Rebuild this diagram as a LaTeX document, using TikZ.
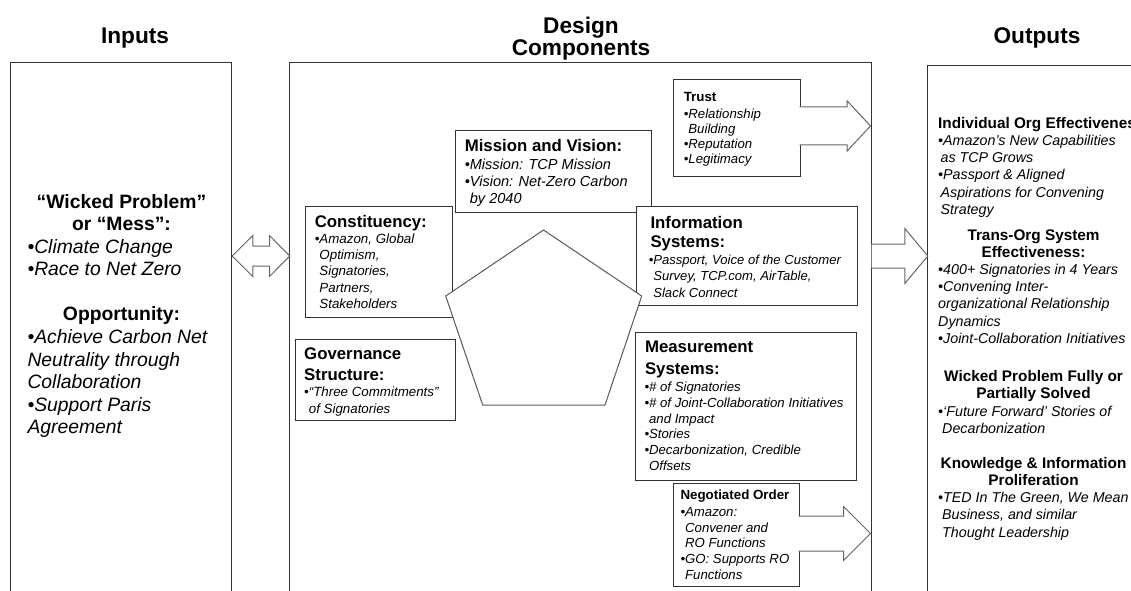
\documentclass[tikz,border=0pt]{standalone}
\usepackage{fontspec}
\setmainfont{Liberation Sans}
\usetikzlibrary{fit}

\newcommand{\fsz}[2]{\fontsize{#1}{#2}\selectfont}
\newcommand{\hg}{\hphantom{•}}
\newcommand{\ml}[1]{\begin{tabular}[t]{@{}l@{}}#1\end{tabular}}
\newcommand{\oh}[1]{\makebox[143pt][c]{\upshape\bfseries\fsz{11.5}{12.9}#1}}
\newcommand{\ih}[1]{\makebox[141pt][c]{\bfseries #1}}

\tikzset{every picture/.style={line width=0.75pt}}
\tikzset{
  box/.style={draw=black!80, fill=white, inner sep=0pt},
  blockarrow/.style={draw=black!60, fill=white, line join=miter},
  penta/.style={draw=black!65, fill=white, line join=miter},
  txt/.style={anchor=base west, inner sep=0pt},
  ttl/.style={anchor=base, inner sep=0pt, align=center, font=\bfseries\fsz{17}{16.5}},
  hd/.style={txt, font=\bfseries\fsz{12.6}{15.75}},
  bl/.style={txt, font=\itshape\fsz{10}{12.1}},
}

\begin{document}
\begin{tikzpicture}[x=0.75pt,y=0.75pt,yscale=-1,xscale=1]
    \useasboundingbox (0,0) rectangle (1131,590);
    \clip (0,0) rectangle (1131,590);
    \coordinate (lvl) at (0,256);

    %Shape: Rectangle (columns)
    \node[box, fit={(10,62.3) (231.7,620)}] (inputs) {};
    \node[box, fit={(289,62.3) (871,620)}] (design) {};
    \node[box, fit={(927.3,65.3) (1160,620)}] (outputs) {};

    %Shape: Rectangle (components)
    \node[box, fit={(455.7,130.3) (651.7,212.7)}] (mission) {};
    \node[box, fit={(305.7,206.3) (452.7,317.3)}] (constit) {};
    \node[box, fit={(636.7,206) (857.3,305)}] (infosys) {};
    %Shape: Pentagon
    \draw[penta] (543.5,230) -- (641.7,296) -- (605,405) -- (482.7,405) -- (445.7,296) -- cycle;
    \node[box, fit={(295,339.3) (455.7,420.7)}] (govern) {};
    \node[box, fit={(635.5,332.7) (856,480.7)}] (measure) {};
    \node[box, fit={(673.3,79) (800,176.7)}] (trust) {};
    \node[box, fit={(673,483.3) (799,586.7)}] (negord) {};

    %Shape: Left Right Arrow
    \draw[blockarrow] (inputs.east |- lvl) -- ++(20.6,-20.5) -- ++(0,10.5) -- ++(16.7,0) -- ++(0,-10.5) -- ++(20.3,20.5)
        -- ++(-20.3,20.5) -- ++(0,-10.5) -- ++(-16.7,0) -- ++(0,10.5) -- cycle;
    %Shape: Right Arrow
    \draw[blockarrow] (design.east |- lvl) ++(0,-12) -- ++(33.3,0) -- ++(0,-15.5) -- ++(23,27.5) -- ++(-23,27.5) -- ++(0,-15.5) -- ++(-33.3,0);
    \draw[blockarrow] (trust.east) ++(-1,-20.9) -- ++(47.7,0) -- ++(0,-6) -- ++(23.3,25) -- ++(-23.3,25) -- ++(0,-6) -- ++(-47.7,0);
    \draw[blockarrow] (negord.east) ++(-1,-19) -- ++(45,0) -- ++(0,-9.5) -- ++(27,27) -- ++(-27,27) -- ++(0,-9.5) -- ++(-45,0);

    % Text Node
    \node[ttl] (inputsttl) at (135,43) {Inputs};
    \node[ttl, anchor=center] (designttl) at (581,38.4) {Design\\Components};
    \node[ttl] (outputsttl) at (1037,43) {Outputs};

    % Text Node
    \node[txt, font=\fsz{14.5}{16.9}] (inputstx) at (27,208.3) {\ml{\ih{“Wicked Problem”}\\ \ih{or “Mess”:}\\
        \textit{•Climate Change}\\ \textit{•Race to Net Zero}\\[16.9pt]
        \ih{Opportunity:}\\ \textit{•Achieve Carbon Net}\\ \textit{Neutrality through}\\ \textit{Collaboration}\\
        \textit{•Support Paris}\\ \textit{Agreement}}};

    % Text Node
    \node[hd] (missionhd) at (464.3,151.7) {Mission and Vision:};
    \node[bl, font=\itshape\fsz{10.9}{12.75}] (missiontx) at (464.3,169.2) {\ml{•Mission: TCP Mission\\ •Vision: Net-Zero Carbon\\ \hg by 2040}};
    % Text Node
    \node[hd] (constithd) at (314.3,227.7) {Constituency:};
    \node[bl] (constittx) at (314.3,243.7) {\ml{•Amazon, Global\\ \hg Optimism,\\ \hg Signatories,\\ \hg Partners,\\ \hg Stakeholders}};
    % Text Node
    \node[hd, font=\bfseries\fsz{12.6}{16}] (governhd) at (303.7,359.3) {\ml{Governance\\ Structure:}};
    \node[bl, font=\itshape\fsz{10}{12.45}] (governtx) at (303.7,396.4) {\ml{•“Three Commitments”\\ \hg of Signatories}};
    % Text Node
    \node[hd, font=\bfseries\fsz{12.6}{14.55}] (infosyshd) at (650,228.3) {\ml{Information\\ Systems:}};
    \node[bl, font=\itshape\fsz{9.8}{12.15}] (infosystx) at (648.3,264.7) {\ml{•Passport, Voice of the Customer\\ \hg Survey, TCP.com, AirTable,\\ \hg Slack Connect}};
    % Text Node
    \node[hd, font=\bfseries\fsz{12.6}{16.5}] (measurehd) at (644.5,352.7) {\ml{Measurement\\ Systems:}};
    \node[bl, font=\itshape\fsz{9.9}{11.85}] (measuretx) at (644,391.4) {\ml{•\# of Signatories\\ •\# of Joint-Collaboration Initiatives\\
        \hg and Impact\\ •Stories\\ •Decarbonization, Credible\\ \hg Offsets}};
    % Text Node
    \node[txt, font=\bfseries\fsz{10}{12}] (trusthd) at (683.3,101.5) {Trust};
    \node[bl, font=\itshape\fsz{9.9}{11.4}] (trusttx) at (683.3,118.3) {\ml{•Relationship\\ \hg Building\\ •Reputation\\ •Legitimacy}};
    % Text Node
    \node[txt, font=\bfseries\fsz{10}{12}] (negordhd) at (680,499.5) {Negotiated Order};
    \node[bl, font=\itshape\fsz{9.9}{11.85}] (negordtx) at (680,516.2) {\ml{•Amazon:\\ \hg Convener and\\ \hg RO Functions\\ •GO: Supports RO\\ \hg Functions}};

    % Text Node
    \node[txt, font=\itshape\fsz{10.7}{12.9}] (indivtx) at (937.7,128.3) {\ml{{\upshape\bfseries\fsz{11.5}{12.9}Individual Org Effectiveness}\\
        •Amazon’s New Capabilities\\ \hspace*{1.8pt}as TCP Grows\\ •Passport \& Aligned\\ \hspace*{1.8pt}Aspirations for Convening\\ \hspace*{1.8pt}Strategy}};
    \node[txt, font=\itshape\fsz{10.7}{12.9}] (transtx) at (937.7,240) {\ml{\oh{Trans-Org System}\\ \oh{Effectiveness:}\\
        •400+ Signatories in 4 Years\\ •Convening Inter-\\ organizational Relationship\\ Dynamics\\ •Joint-Collaboration Initiatives}};
    \node[txt, font=\itshape\fsz{10.7}{12.9}] (wickedtx) at (937.7,381.7) {\ml{\oh{Wicked Problem Fully or}\\ \oh{Partially Solved}\\
        •‘Future Forward’ Stories of\\ \hspace*{3pt}Decarbonization}};
    \node[txt, font=\itshape\fsz{10.7}{12.9}] (knowtx) at (937.7,468.3) {\ml{\oh{Knowledge \& Information}\\ \oh{Proliferation}\\
        •TED In The Green, We Mean\\ \hspace*{3pt}Business, and similar\\ \hspace*{3pt}Thought Leadership}};
\end{tikzpicture}
\end{document}
